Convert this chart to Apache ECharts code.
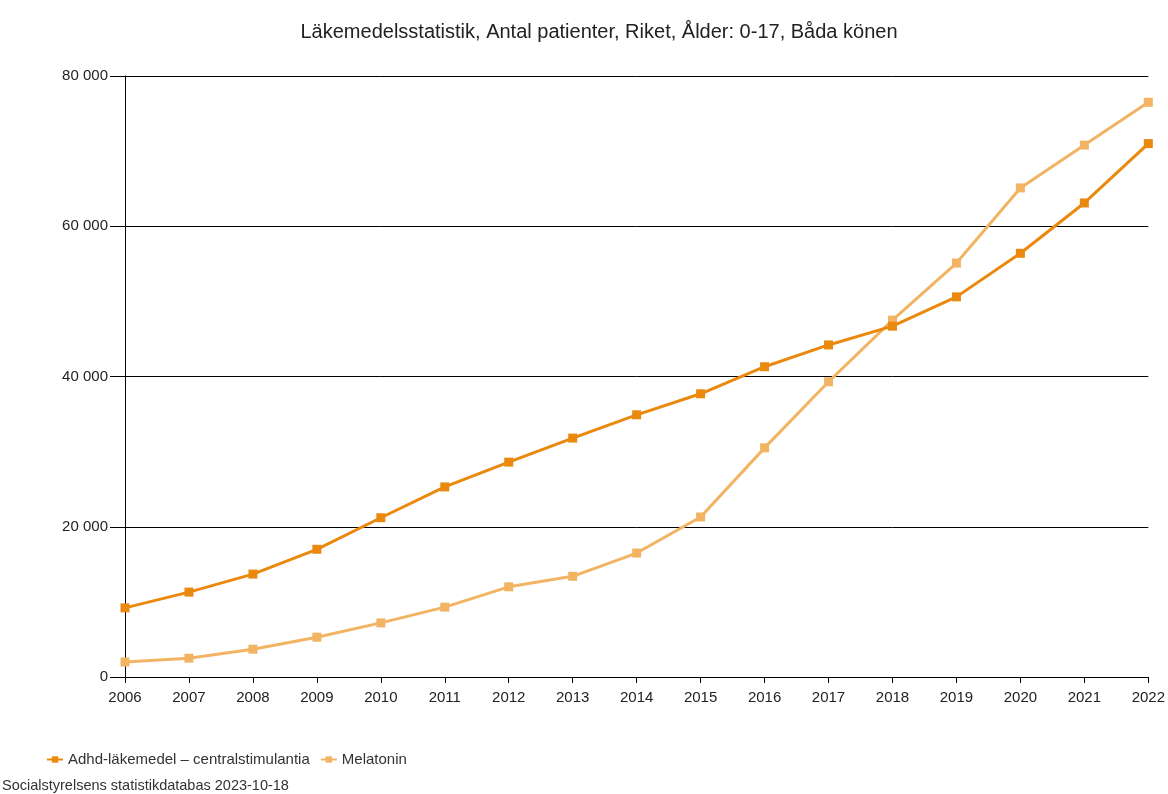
<!DOCTYPE html>
<html><head><meta charset="utf-8">
<script src="https://cdn.jsdelivr.net/npm/echarts@6/dist/echarts.min.js"></script>
<style>html,body{margin:0;padding:0;background:#fff}#c{width:1168px;height:794px}</style>
</head><body><div id="c"></div>
<script>
const years = ['2006','2007','2008','2009','2010','2011','2012','2013','2014','2015','2016','2017','2018','2019','2020','2021','2022'];
const adhd = [9200,11300,13700,17000,21200,25300,28600,31800,34900,37700,41300,44200,46700,50600,56400,63100,71000];
const melatonin = [2000,2500,3700,5300,7200,9300,12000,13400,16500,21300,30500,39300,47500,55100,65100,70800,76500];
const seriesNames = ['Adhd-läkemedel – centralstimulantia','Melatonin'];
const yTicks = [0,20000,40000,60000,80000];
const titleText = 'Läkemedelsstatistik, Antal patienter, Riket, Ålder: 0-17, Båda könen';
const sourceText = 'Socialstyrelsens statistikdatabas 2023-10-18';

const fmt = v => String(v).replace(/\B(?=(\d{3})+(?!\d))/g, ' ');
const chart = echarts.init(document.getElementById('c'), null, {renderer:'canvas'});
chart.setOption({
  animation:false,
  backgroundColor:'#fff',
  title:{text:titleText,left:594,textAlign:'center',top:17,textStyle:{fontFamily:'Liberation Sans, Arial',fontSize:20,fontWeight:'normal',color:'#222'}},
  grid:{left:125,right:17,top:76,bottom:117,containLabel:false},
  legend:{left:46,top:752,padding:0,itemWidth:16,itemHeight:8,itemGap:10,textStyle:{fontFamily:'Liberation Sans, Arial',fontSize:15,color:'#333'},data:seriesNames},
  graphic:[{type:'text',left:2,top:778,style:{text:sourceText,fontFamily:'Liberation Sans Narrow, Liberation Sans, Arial',fontSize:14.5,fill:'#333'}}],
  xAxis:{type:'category',data:years,boundaryGap:false,
    axisLine:{lineStyle:{color:'#000',width:1}},
    axisTick:{show:true,length:6,lineStyle:{color:'#000'},alignWithLabel:true},
    axisLabel:{fontFamily:'Liberation Sans, Arial',fontSize:15,color:'#222',margin:13}},
  yAxis:{type:'value',min:0,max:80000,interval:20000,
    axisLine:{show:true,lineStyle:{color:'#000',width:1}},
    axisTick:{show:true,length:15,lineStyle:{color:'#000'}},
    splitLine:{lineStyle:{color:'#000',width:1}},
    axisLabel:{fontFamily:'Liberation Sans, Arial',fontSize:15,color:'#222',margin:17,padding:[0,0,5,0],formatter:v=>fmt(v)}},
  series:[
    {name:seriesNames[0],type:'line',data:adhd,symbol:'rect',symbolSize:9,color:'#EA890E',lineStyle:{width:3,color:'#EA890E'},itemStyle:{color:'#EA890E'},z:3},
    {name:seriesNames[1],type:'line',data:melatonin,symbol:'rect',symbolSize:9,color:'#F2B463',lineStyle:{width:3,color:'#F2B463'},itemStyle:{color:'#F2B463'},z:2}
  ]
});
</script></body></html>
